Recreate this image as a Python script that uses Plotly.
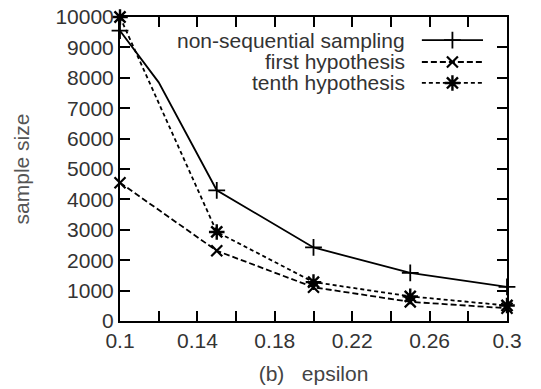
import plotly.graph_objects as go

epsilon = [0.1, 0.15, 0.2, 0.25, 0.3]
nonseq_eps = [0.1, 0.12, 0.15, 0.2, 0.25, 0.3]
nonseq = [9550, 7850, 4300, 2420, 1580, 1120]
first_hyp = [4550, 2310, 1110, 630, 420]
tenth_hyp = [10000, 2930, 1280, 810, 510]

series_names = ["non-sequential sampling", "first hypothesis", "tenth hypothesis"]
x_tickvals = [0.1, 0.12, 0.14, 0.16, 0.18, 0.2, 0.22, 0.24, 0.26, 0.28, 0.3]
x_ticktext = ["0.1", "", "0.14", "", "0.18", "", "0.22", "", "0.26", "", "0.3"]
y_tickvals = list(range(0, 10001, 1000))
y_ticktext = [str(v) for v in y_tickvals]

FONT = "Liberation Sans, Arial, sans-serif"
FS = 21
styles = [
    dict(dash="solid", symbol="cross-thin-open", size=12, mw=1.8),
    dict(dash="6px,3px", symbol="x-thin-open", size=11, mw=2.2),
    dict(dash="4px,3px", symbol="asterisk-open", size=13, mw=2.4),
]

fig = go.Figure()
data = [(nonseq_eps, nonseq), (epsilon, first_hyp), (epsilon, tenth_hyp)]
for (xs, ys), name, st in zip(data, series_names, styles):
    fig.add_trace(go.Scatter(
        x=xs, y=ys, mode="lines", name=name, showlegend=False,
        line=dict(color="black", width=1.8, dash=st["dash"]),
        cliponaxis=False,
    ))
    mx = [x for x in xs if x in epsilon]
    my = [y for x, y in zip(xs, ys) if x in epsilon]
    fig.add_trace(go.Scatter(
        x=mx, y=my, mode="markers", showlegend=False,
        marker=dict(symbol=st["symbol"], size=st["size"], color="black",
                    line=dict(color="black", width=st["mw"])),
        cliponaxis=False,
    ))

# Legend (samples on the right, as in the original)
leg_rows = [0.924, 0.852, 0.783]
for name, st, ry in zip(series_names, styles, leg_rows):
    fig.add_trace(go.Scatter(
        x=[0.780, 0.938], y=[ry, ry], xaxis="x2", yaxis="y2", mode="lines",
        showlegend=False, line=dict(color="black", width=1.8, dash=st["dash"]),
        cliponaxis=False, hoverinfo="skip",
    ))
    fig.add_trace(go.Scatter(
        x=[0.859], y=[ry], xaxis="x2", yaxis="y2", mode="markers",
        showlegend=False,
        marker=dict(symbol=st["symbol"], size=st["size"], color="black",
                    line=dict(color="black", width=st["mw"])),
        cliponaxis=False, hoverinfo="skip",
    ))
    fig.add_annotation(x=0.742, y=ry, xref="x2", yref="y2", text=name,
                       showarrow=False, xanchor="right", yanchor="middle",
                       font=dict(family=FONT, size=FS, color="#333"))

fig.update_layout(
    width=541, height=389,
    margin=dict(l=120, r=34, t=17, b=68),
    paper_bgcolor="white", plot_bgcolor="white",
    font=dict(family=FONT, size=FS, color="#333"),
    showlegend=False,
    xaxis=dict(
        range=[0.1, 0.3], tickvals=x_tickvals, ticktext=x_ticktext,
        ticks="inside", ticklen=10, tickwidth=1.8, tickcolor="black",
        showline=True, linecolor="black", linewidth=2, mirror="ticks",
        showgrid=False, zeroline=False, automargin=False,
        tickfont=dict(family=FONT, size=FS, color="#333"),
        title=dict(text="(b)   epsilon", standoff=15,
                   font=dict(family=FONT, size=FS, color="#444")),
    ),
    yaxis=dict(
        range=[0, 10000], tickvals=y_tickvals, ticktext=y_ticktext,
        ticks="inside", ticklen=10, tickwidth=1.8, tickcolor="black",
        showline=True, linecolor="black", linewidth=2, mirror="ticks",
        showgrid=False, zeroline=False, automargin=False,
        tickfont=dict(family=FONT, size=FS, color="#333"),
        title=dict(text="sample size", standoff=20,
                   font=dict(family=FONT, size=FS, color="#555")),
    ),
    xaxis2=dict(range=[0, 1], overlaying="x", visible=False, anchor="y2"),
    yaxis2=dict(range=[0, 1], overlaying="y", visible=False, anchor="x2"),
)

fig.write_html("out.html", config={"displayModeBar": False},
               post_script="document.body.style.margin='0';document.body.style.overflow='hidden';")
